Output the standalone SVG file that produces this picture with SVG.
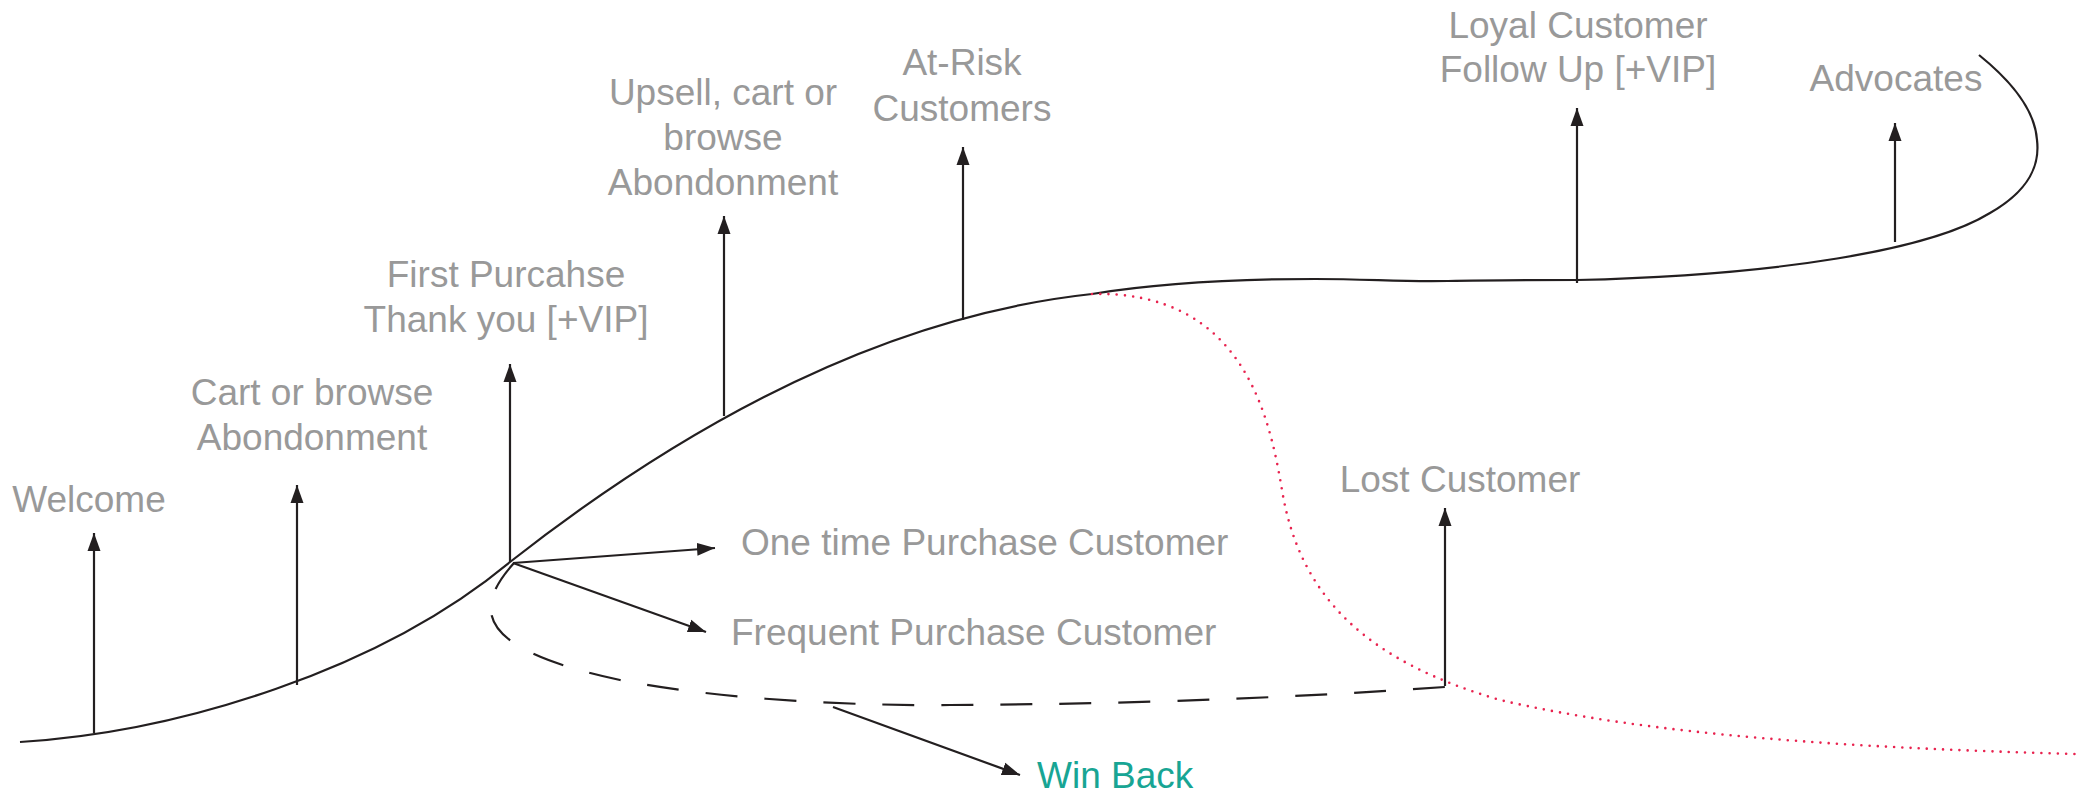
<svg xmlns="http://www.w3.org/2000/svg" width="2089" height="793" viewBox="0 0 2089 793">
<style>
.lbl{font-family:"Liberation Sans",Arial,sans-serif;font-size:37px;fill:#999999}
.win{font-family:"Liberation Sans",Arial,sans-serif;font-size:37px;fill:#18a594}
.ln{stroke:#231f20;stroke-width:2.2;fill:none}
.arr{stroke:#231f20;stroke-width:2.2;fill:none;marker-end:url(#ah)}
</style>
<defs>
<marker id="ah" markerUnits="userSpaceOnUse" markerWidth="20" markerHeight="14" refX="18" refY="7" orient="auto">
<path d="M0,0.5 L18,7 L0,13.5 Z" fill="#231f20"/>
</marker>
</defs>
<rect width="2089" height="793" fill="#ffffff"/>
<g id="connectors">
<path id="main-curve" class="ln" stroke-width="2.6" d="M20,742 C180,732 380,670 510,562 C640,460 850,320 1092,294 C1160,283 1240,279 1315,279 C1370,279 1400,282 1448,281 C1490,280 1530,280 1577,280 C1780,275 1930,250 1990,213 C2030,190 2040,165 2037,140 C2035,110 2010,80 1979,55"/>
<path id="lost-curve" fill="none" stroke="#e8234f" stroke-width="2.6" stroke-linecap="round" stroke-dasharray="0 8.2" d="M1092,294 C1245,290 1270,420 1282,490 C1300,600 1370,662 1500,700 C1650,735 1850,748 2077,754"/>
<path id="winback-curve" class="ln" stroke-width="2.6" stroke-dasharray="32 27" d="M514,563 C470,612 480,650 620,680 C720,700 860,706 950,705 C1150,704 1300,697 1445,687"/>
<line class="arr" x1="94" y1="733" x2="94" y2="533"/>
<line class="arr" x1="297" y1="685" x2="297" y2="485"/>
<line class="arr" x1="510" y1="562" x2="510" y2="364"/>
<line class="arr" x1="724" y1="416" x2="724" y2="216"/>
<line class="arr" x1="963" y1="320" x2="963" y2="147"/>
<line class="arr" x1="1577" y1="283" x2="1577" y2="108"/>
<line class="arr" x1="1895" y1="242" x2="1895" y2="123"/>
<line class="arr" x1="1445" y1="686" x2="1445" y2="508"/>
<line class="arr" x1="513" y1="563" x2="715" y2="548"/>
<line class="arr" x1="513" y1="563" x2="706" y2="632"/>
<line class="arr" x1="833" y1="707" x2="1020" y2="775"/>
</g>
<g id="welcome"><text class="lbl" x="89" y="512" text-anchor="middle">Welcome</text></g>
<g id="cart-abandon"><text class="lbl" x="312" y="405" text-anchor="middle">Cart or browse</text><text class="lbl" x="312" y="450" text-anchor="middle">Abondonment</text></g>
<g id="first-purchase"><text class="lbl" x="506" y="287" text-anchor="middle">First Purcahse</text><text class="lbl" x="506" y="332" text-anchor="middle">Thank you [+VIP]</text></g>
<g id="upsell"><text class="lbl" x="723" y="105" text-anchor="middle">Upsell, cart or</text><text class="lbl" x="723" y="150" text-anchor="middle">browse</text><text class="lbl" x="723" y="195" text-anchor="middle">Abondonment</text></g>
<g id="at-risk"><text class="lbl" x="962" y="75" text-anchor="middle">At-Risk</text><text class="lbl" x="962" y="121" text-anchor="middle">Customers</text></g>
<g id="loyal"><text class="lbl" x="1578" y="38" text-anchor="middle">Loyal Customer</text><text class="lbl" x="1578" y="82" text-anchor="middle">Follow Up [+VIP]</text></g>
<g id="advocates"><text class="lbl" x="1896" y="91" text-anchor="middle">Advocates</text></g>
<g id="lost"><text class="lbl" x="1460" y="492" text-anchor="middle">Lost Customer</text></g>
<g id="one-time"><text class="lbl" x="741" y="555">One time Purchase Customer</text></g>
<g id="frequent"><text class="lbl" x="731" y="645">Frequent Purchase Customer</text></g>
<g id="win-back"><text class="win" x="1037" y="788">Win Back</text></g>
</svg>
